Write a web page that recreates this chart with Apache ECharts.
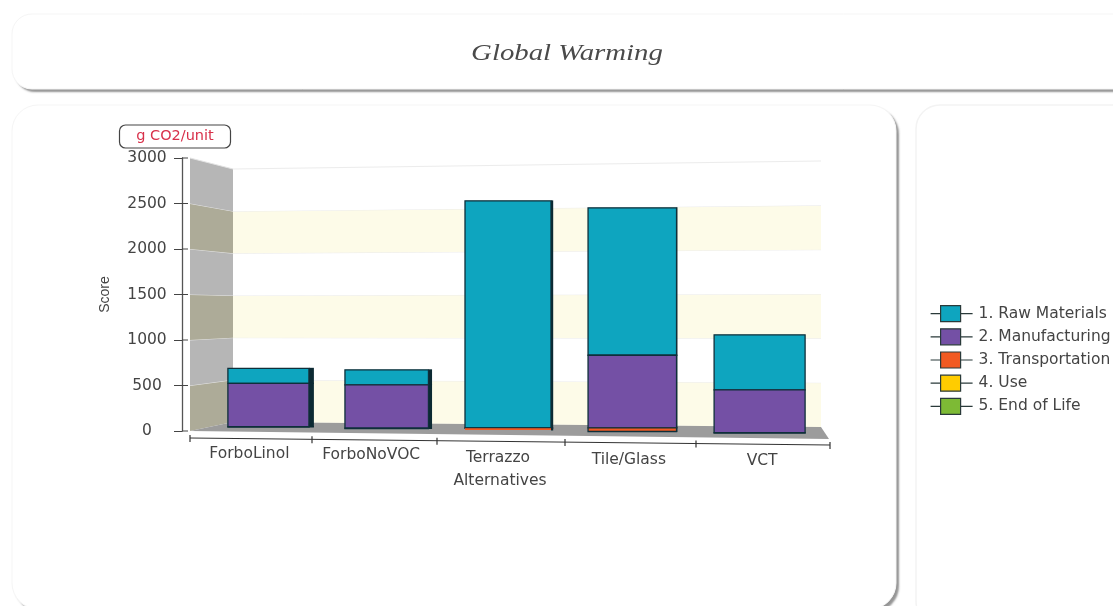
<!DOCTYPE html>
<html><head><meta charset="utf-8">
<style>html,body{margin:0;padding:0;background:#fff}#c{width:1113px;height:606px}</style>
<script src="https://cdn.jsdelivr.net/npm/echarts@6/dist/echarts.min.js"></script>
</head><body><div id="c"></div>
<script>
const categories = ['ForboLinol', 'ForboNoVOC', 'Terrazzo', 'Tile/Glass', 'VCT'];
const endOfLife = [0, 0, 0, 0, 0];
const useStage = [0, 0, 0, 0, 0];
const transportation = [5, 5, 20, 40, 5];
const manufacturing = [475, 475, 3, 798, 470];
const rawMaterials = [165, 165, 2495, 1620, 604];
const bandStarts = [0, 500, 1000, 1500, 2000, 2500];
const seriesNames = ['1. Raw Materials', '2. Manufacturing', '3. Transportation', '4. Use', '5. End of Life'];
const seriesColors = ['#0ea5bf', '#7450a5', '#f15a22', '#ffcc00', '#7dba35'];

const stackOrder = [endOfLife, useStage, transportation, manufacturing, rawMaterials];
const warp = i => -1.5 * i * (4 - i);
const sink = i => -4 + 1.5 * i;
const faceWidth = i => 81 + 2.5 * i;
const sideDepth = i => Math.max(0, 5 - 1.4 * i);

function stackBase(level, i) {
  let s = 0;
  for (let k = 0; k < level; k++) s += stackOrder[k][i];
  return s;
}

function barRenderer(level, color) {
  return function (params, api) {
    const i = api.value(0), v = api.value(1);
    if (!v) return null;
    const base = stackBase(level, i);
    const cx = api.coord([i, 0])[0] + warp(i);
    const y0 = api.coord([i, base])[1] + sink(i);
    const y1 = api.coord([i, base + v])[1] + sink(i);
    const w = faceWidth(i), d = sideDepth(i);
    const left = cx - w / 2, right = cx + w / 2;
    const h = y0 - y1;
    const thin = h >= 1 && h < 3;
    return {
      type: 'group',
      children: [
        { type: 'rect', shape: { x: right, y: y1 - 0.5, width: d, height: h + 1 },
          style: { fill: '#0c2a33' } },
        { type: 'rect', shape: { x: left, y: y1, width: w, height: h },
          style: thin ? { fill: color } : { fill: color, stroke: '#0f2f3a', lineWidth: 1.3 } }
      ]
    };
  };
}

function frameRenderer(params, api) {
  const start = api.value(0), end = start + 500;
  const cs = params.coordSys;
  const zero = api.coord([0, 0])[1];
  const fy = v => api.coord([0, v])[1];
  const frontX = cs.x - 17, backL = cs.x + 26, backR = cs.x + cs.width;
  const ly = v => zero - 9 - (zero - fy(v)) * 0.9267;
  const ry = v => zero - 4 - (zero - fy(v)) * 0.9744;
  const odd = (start / 500) % 2 === 0;
  const kids = [
    { type: 'polygon', shape: { points: [[frontX, fy(start)], [backL, ly(start)], [backL, ly(end)], [frontX, fy(end)]] },
      style: { fill: odd ? '#adab98' : '#b6b6b6' } },
    { type: 'polygon', shape: { points: [[backL, ly(start)], [backR, ry(start)], [backR, ry(end)], [backL, ly(end)]] },
      style: { fill: odd ? '#fdfbe8' : '#ffffff' } },
    { type: 'line', shape: { x1: frontX, y1: fy(end), x2: backL, y2: ly(end) },
      style: { stroke: '#e4e4e4', lineWidth: 1 } },
    { type: 'line', shape: { x1: backL, y1: ly(end), x2: backR, y2: ry(end) },
      style: { stroke: '#ececec', lineWidth: 1 } },
    { type: 'line', shape: { x1: cs.x - 25, y1: fy(end), x2: cs.x - 19, y2: fy(end) },
      style: { stroke: '#444', lineWidth: 1 } }
  ];
  if (start === 0) {
    kids.push(
      { type: 'polygon', shape: { points: [[frontX, zero], [backL, ly(0)], [backR, ry(0)], [backR + 8, zero + 8]] },
        style: { fill: '#9c9c9c' } },
      { type: 'line', shape: { x1: cs.x - 25, y1: zero, x2: cs.x - 19, y2: zero },
        style: { stroke: '#444', lineWidth: 1 } }
    );
    const axisX = n => frontX + 120.5 * n + 1.5 * n * n;
    const axisY = x => zero + 7 + (x - frontX) * 0.0109;
    kids.push({ type: 'line', shape: { x1: axisX(0), y1: axisY(axisX(0)), x2: axisX(5), y2: axisY(axisX(5)) },
      style: { stroke: '#333', lineWidth: 1.2 } });
    for (let n = 0; n <= 5; n++) {
      const x = axisX(n), y = axisY(x);
      kids.push({ type: 'line', shape: { x1: x, y1: y - 3, x2: x, y2: y + 4 }, style: { stroke: '#333', lineWidth: 1.2 } });
    }
  }
  return { type: 'group', children: kids };
}

const labelShift = [[-19, 0], [-20, 1], [-16, 4], [-8, 6], [2.5, 7]];
const labelRich = {};
categories.forEach((c, i) => {
  const [dx, dy] = labelShift[i];
  labelRich['c' + i] = {
    fontFamily: 'DejaVu Sans', fontSize: 15.5, color: '#444',
    padding: [dy, dx < 0 ? -2 * dx : 0, 0, dx > 0 ? 2 * dx : 0]
  };
});

const legendIcon = 'path://M0 8H10V0H30V16H10V8H0ZM30 8H42Z';
const legendOrder = seriesNames.map((n, k) => ({
  name: n,
  itemStyle: { color: seriesColors[k], borderColor: '#2a3a3a', borderWidth: 1.2 }
}));

const panel = (x, y, w, h, r, strong) => ({
  type: 'rect', z: -10, shape: { x, y, width: w, height: h, r },
  style: strong
    ? { fill: '#fff', shadowColor: 'rgba(130,130,130,0.85)', shadowBlur: 2, shadowOffsetX: 3, shadowOffsetY: 3 }
    : { fill: '#fff', stroke: '#f3f3f3', lineWidth: 1.5 }
});
const panelEdge = (x, y, w, h, r) => ({
  type: 'rect', z: -9, shape: { x, y, width: w, height: h, r },
  style: { fill: '#fff', stroke: '#f5f5f5', lineWidth: 1 }
});

const chart = echarts.init(document.getElementById('c'));
chart.setOption({
  animation: false,
  backgroundColor: '#ffffff',
  grid: { left: 207, right: 292, top: 158, height: 273, containLabel: false },
  xAxis: {
    type: 'category', data: categories, name: 'Alternatives', nameLocation: 'middle', nameGap: 42,
    nameTextStyle: { fontFamily: 'DejaVu Sans', fontSize: 15.5, color: '#444', padding: [0, 28, 0, 0] },
    axisLine: { show: false }, axisTick: { show: false },
    axisLabel: { margin: 15, interval: 0, formatter: (v, i) => `{c${i}|${v}}`, rich: labelRich },
    splitLine: { show: false }
  },
  yAxis: {
    type: 'value', min: 0, max: 3000, interval: 500, offset: 25,
    name: 'Score', nameLocation: 'middle', nameGap: 70, nameRotate: 90,
    nameTextStyle: { fontFamily: 'Liberation Sans', fontSize: 14, color: '#444' },
    axisLine: { show: true, lineStyle: { color: '#555', width: 1.3 } },
    axisTick: { show: true, length: 8, lineStyle: { color: '#444' } },
    axisLabel: { margin: 35, align: 'center', fontFamily: 'DejaVu Sans', fontSize: 15.5, color: '#444', formatter: v => String(v) },
    splitLine: { show: false }
  },
  legend: {
    orient: 'vertical', left: 925, top: 300, itemWidth: 42, itemHeight: 16, itemGap: 6,
    icon: legendIcon, data: legendOrder, selectedMode: false,
    textStyle: { fontFamily: 'DejaVu Sans', fontSize: 15.5, color: '#444', padding: [0, 0, 0, 1] }
  },
  graphic: [
    panel(12, 14, 1140, 75, 20, true),
    panelEdge(12, 14, 1140, 75, 20),
    panel(12, 105, 884, 504, 26, true),
    panelEdge(12, 105, 884, 504, 26),
    panel(916, 105, 240, 520, 24, false),
    { type: 'text', z: 51, x: 567, y: 54, scaleX: 1.2,
      style: { text: 'Global Warming', fill: '#4a4a4a', font: 'italic 24px "Liberation Serif"', textAlign: 'center', textVerticalAlign: 'middle' } },
    { type: 'rect', z: 50, shape: { x: 119.5, y: 125, width: 111, height: 23, r: 6 },
      style: { fill: '#fff', stroke: '#444', lineWidth: 1.2 } },
    { type: 'text', z: 51, x: 175, y: 136,
      style: { text: 'g CO2/unit', fill: '#d8304a', font: '14.5px "DejaVu Sans"', textAlign: 'center', textVerticalAlign: 'middle' } }
  ],
  series: [
    { type: 'custom', name: 'frame', z: 1, silent: true, clip: false, renderItem: frameRenderer,
      data: bandStarts.map(v => [v]), encode: { y: 0 } },
    ...[
      [4, rawMaterials, 0], [3, manufacturing, 1], [2, transportation, 2], [1, useStage, 3], [0, endOfLife, 4]
    ].map(([level, values, k]) => ({
      type: 'custom', name: seriesNames[k], z: 3, clip: false,
      itemStyle: { color: seriesColors[k] },
      renderItem: barRenderer(level, seriesColors[k]),
      encode: { x: 0, y: 1 },
      data: values.map((v, i) => [i, v])
    }))
  ]
});
</script></body></html>
